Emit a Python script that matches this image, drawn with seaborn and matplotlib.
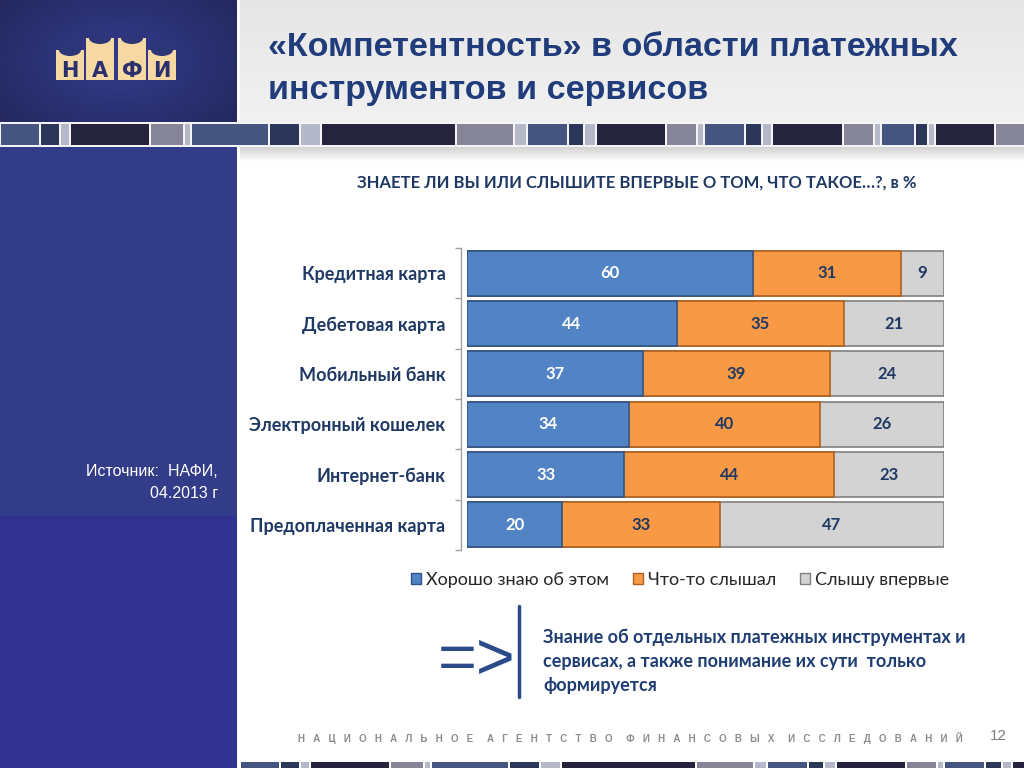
import numpy as np
import pandas as pd
import matplotlib
matplotlib.use('Agg')
import matplotlib.pyplot as plt
from matplotlib.patches import Rectangle, Patch, Ellipse
from matplotlib.lines import Line2D
import seaborn as sns

# данные
categories = ['Кредитная карта', 'Дебетовая карта', 'Мобильный банк',
              'Электронный кошелек', 'Интернет-банк', 'Предоплаченная карта']
know_well = [60, 44, 37, 34, 33, 20]
heard_something = [31, 35, 39, 40, 44, 33]
first_time = [9, 21, 24, 26, 23, 47]
series_names = ['Хорошо знаю об этом', 'Что-то слышал', 'Слышу впервые']

blue, orange, gray = '#5283c4', '#f89a45', '#d3d3d3'
blue_e, orange_e, gray_e = '#2f5587', '#b0601e', '#7f7f7f'
navy = '#1f3864'

sns.set_theme(style='white')
plt.rcParams['font.family'] = ['Lato', 'DejaVu Sans']

W, H = 1024, 768
fig = plt.figure(figsize=(10.24, 7.68), dpi=100)
fig.patch.set_facecolor('white')


def rect(x, y, w, h, color, z=-5):
    fig.add_artist(Rectangle((x / W, 1 - (y + h) / H), w / W, h / H,
                             transform=fig.transFigure, facecolor=color,
                             edgecolor='none', zorder=z))


def grad_axes(x, y, w, h, img):
    a = fig.add_axes([x / W, 1 - (y + h) / H, w / W, h / H])
    a.imshow(img, aspect='auto', interpolation='bilinear')
    a.set_axis_off()
    a.set_zorder(-10)
    return a


# фон шапки
yy, xx = np.mgrid[0:122, 0:237]
r = np.clip(np.sqrt(((xx - 118) / 150) ** 2 + ((yy - 60) / 95) ** 2), 0, 1)[..., None]
c0 = np.array([0x31, 0x3c, 0x8c]) / 255
c1 = np.array([0x25, 0x29, 0x60]) / 255
grad_axes(0, 0, 237, 122, c0 * (1 - r) + c1 * r)

t = np.linspace(0, 1, 122)[:, None, None]
g0 = np.array([0xe6, 0xe6, 0xe6]) / 255
g1 = np.array([0xf1, 0xf1, 0xf1]) / 255
grad_axes(240, 0, 784, 122, np.repeat(g0 * (1 - t) + g1 * t, 4, axis=1))

# левая панель
rect(0, 146, 237, 370, '#323c88')
rect(0, 516, 237, 252, '#31328f')

# тень под полосой
t = np.linspace(0, 1, 16)[:, None, None]
s0 = np.array([0xd0, 0xd0, 0xd0]) / 255
s1 = np.array([1.0, 1.0, 1.0])
grad_axes(240, 146, 784, 16, np.repeat(s0 * (1 - t) + s1 * t, 4, axis=1))

# декоративная полоса
strip_colors = {'s': '#465580', 'd': '#2c3658', 'l': '#b4b8c8', 'k': '#26243c', 'g': '#868698'}
strip = [(0, 39, 's'), (40, 59, 'd'), (60, 69, 'l'), (70, 149, 'k'), (150, 183, 'g'),
         (184, 190, 'l'), (191, 268, 's'), (269, 299, 'd'), (300, 320, 'l'), (321, 455, 'k'),
         (456, 513, 'g'), (514, 526, 'l'), (527, 567, 's'), (568, 583, 'd'), (584, 595, 'l'),
         (596, 665, 'k'), (666, 696, 'g'), (697, 703, 'l'), (704, 744, 's'), (745, 761, 'd'),
         (762, 771, 'l'), (772, 842, 'k'), (843, 873, 'g'), (874, 880, 'l'), (881, 914, 's'),
         (915, 927, 'd'), (928, 934, 'l'), (935, 994, 'k'), (995, 1024, 'g')]
rect(0, 122, 1024, 25, '#f4f4f4')
for x0, x1, c in strip:
    rect(x0 + 1, 124, x1 - x0 - 1, 21, strip_colors[c], z=-4)
# нижняя полоса
for x0, x1, c in strip:
    if x0 + 240 < W:
        rect(x0 + 241, 762, min(x1 + 240, W) - x0 - 241, 6, strip_colors[c], z=-4)

# логотип
blocks = [(56, 50), (86, 38), (118, 38), (148, 50)]
for (bx, by), letter in zip(blocks, 'НАФИ'):
    rect(bx, by, 28, 80 - by, '#f6d9a2', z=-4)
    fig.add_artist(Ellipse(((bx + 14) / W, 1 - by / H), 22 / W, 12 / H,
                           transform=fig.transFigure, facecolor='#2d3679',
                           edgecolor='none', zorder=-3))
    fig.text((bx + 14) / W, 1 - 71 / H, letter, ha='center', va='center',
             fontsize=15, fontweight='heavy', color='#2a2f6e',
             family=['DejaVu Sans'])

# заголовок
title_font = ['Liberation Sans', 'DejaVu Sans']
fig.text(268 / W, 1 - 48 / H, '«Компетентность» в области платежных', va='center',
         fontsize=24.5, fontweight='bold', color='#203c7a', family=title_font)
fig.text(268 / W, 1 - 90 / H, 'инструментов и сервисов', va='center',
         fontsize=24.5, fontweight='bold', color='#203c7a', family=title_font)

fig.text(637 / W, 1 - 183 / H, 'ЗНАЕТЕ ЛИ ВЫ ИЛИ СЛЫШИТЕ ВПЕРВЫЕ О ТОМ, ЧТО ТАКОЕ…?, в %',
         ha='center', va='center', fontsize=12, fontweight='bold', color=navy)

# источник
src_font = ['Liberation Sans', 'DejaVu Sans']
fig.text(218 / W, 1 - 471 / H, 'Источник:  НАФИ,', ha='right', va='center',
         fontsize=11.5, color='white', family=src_font)
fig.text(218 / W, 1 - 494 / H, '04.2013 г', ha='right', va='center',
         fontsize=11.5, color='white', family=src_font)

# диаграмма
df = pd.DataFrame({'cat': categories, 'a': know_well, 'b': heard_something, 'c': first_time})
df['ab'] = df['a'] + df['b']
df['abc'] = df['ab'] + df['c']

ax = fig.add_axes([467 / W, 1 - 550 / H, 477 / W, 302 / H])
ax.set_zorder(2)
ax.patch.set_alpha(0)
for col, fc, ec in [('abc', gray, gray_e), ('ab', orange, orange_e), ('a', blue, blue_e)]:
    sns.barplot(data=df, x=col, y='cat', color=fc, edgecolor=ec, linewidth=1.2,
                width=0.89, saturation=1, ax=ax)

for i in range(len(categories)):
    a, b, c = know_well[i], heard_something[i], first_time[i]
    ax.text(a / 2, i, str(a), ha='center', va='center', fontsize=12,
            fontweight='bold', color='white')
    ax.text(a + b / 2, i, str(b), ha='center', va='center', fontsize=12,
            fontweight='bold', color=navy)
    ax.text(a + b + c / 2, i, str(c), ha='center', va='center', fontsize=12,
            fontweight='bold', color=navy)

ax.set_xlim(0, 100)
ax.set_ylim(5.5, -0.5)
ax.set_xlabel('')
ax.set_ylabel('')
ax.set_xticks([])
for sp in ['top', 'right', 'bottom']:
    ax.spines[sp].set_visible(False)
ax.spines['left'].set_position(('outward', 4))
ax.spines['left'].set_color('#a0a0a0')
ax.spines['left'].set_linewidth(1)
ax.set_yticks(np.arange(-0.5, 6, 1), minor=True)
ax.tick_params(axis='y', which='major', length=0, pad=11.5, labelsize=13,
               labelcolor=navy)
ax.tick_params(axis='y', which='minor', length=4, width=1, color='#a0a0a0',
               direction='out', left=True)
for lbl in ax.get_yticklabels():
    lbl.set_fontweight('bold')

# легенда
handles = [Patch(facecolor=blue, edgecolor=blue_e), Patch(facecolor=orange, edgecolor=orange_e),
           Patch(facecolor=gray, edgecolor=gray_e)]
fig.legend(handles=handles, labels=series_names, loc='center',
           bbox_to_anchor=(680 / W, 1 - 580 / H), ncol=3, frameon=False, fontsize=13,
           handlelength=0.55, handleheight=0.55, handletextpad=0.3, columnspacing=1.3,
           labelcolor='#262626')

# вывод
fig.text(477 / W, 1 - 661 / H, '=>', ha='center', va='center', fontsize=48,
         color='#2a4a8a', family=['Liberation Sans', 'DejaVu Sans'])
fig.add_artist(Line2D([519 / W, 519 / W], [1 - 606 / H, 1 - 697 / H], color='#2a4a8a', lw=2.5))
conclusion = ['Знание об отдельных платежных инструментах и',
              'сервисах, а также понимание их сути  только',
              'формируется']
for k, line in enumerate(conclusion):
    fig.text(543 / W, 1 - (637 + 24 * k) / H, line, va='center', fontsize=13,
             fontweight='bold', color='#1f3c73')

# подвал
footer_words = ['НАЦИОНАЛЬНОЕ', 'АГЕНТСТВО', 'ФИНАНСОВЫХ', 'ИССЛЕДОВАНИЙ']
footer = '     '.join('   '.join(w) for w in footer_words)
fig.text(298 / W, 1 - 738 / H, footer, va='center', fontsize=7, fontweight='bold',
         color='#8c8c8c', family=['Liberation Sans', 'DejaVu Sans'])
fig.text(990 / W, 1 - 736 / H, '12', va='center', fontsize=11, color='#7f7f7f',
         family=['Liberation Sans', 'DejaVu Sans'])

fig.savefig('out.png', dpi=100)
